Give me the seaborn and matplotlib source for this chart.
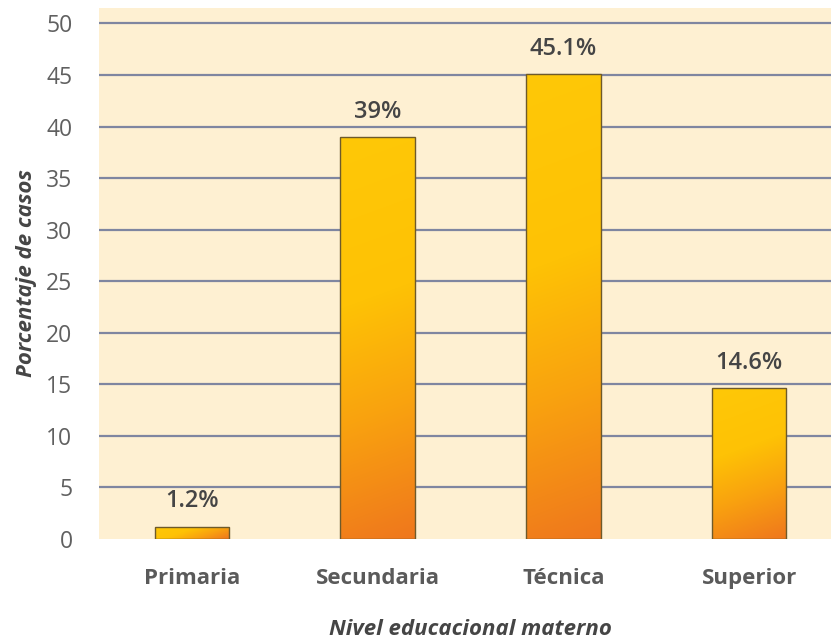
import numpy as np
import matplotlib
matplotlib.use("Agg")
import matplotlib.pyplot as plt
from matplotlib.colors import LinearSegmentedColormap
import seaborn as sns
import pandas as pd

# Data
categories = ["Primaria", "Secundaria", "Técnica", "Superior"]
percentages = [1.2, 39.0, 45.1, 14.6]
value_labels = ["1.2%", "39%", "45.1%", "14.6%"]
y_ticks = [0, 5, 10, 15, 20, 25, 30, 35, 40, 45, 50]

sns.set_theme(style="white")
plt.rcParams["font.family"] = ["Open Sans", "DejaVu Sans"]

fig = plt.figure(figsize=(8.31, 6.42), dpi=100)
ax = fig.add_axes([0.119, 0.1604, 0.881, 0.8271])
ax.set_facecolor("#FEF0D2")

df = pd.DataFrame({"nivel": categories, "pct": percentages})
sns.barplot(data=df, x="nivel", y="pct", ax=ax, width=0.40,
            color="#FFC000", edgecolor="#6E5A2A", linewidth=1.0, zorder=3)

ax.set_xlim(-0.5, 3.44)
ax.set_ylim(0, 51.5)
ax.set_yticks(y_ticks)
ax.set_yticklabels([str(t) for t in y_ticks])

# horizontal gridlines
for t in y_ticks[1:]:
    ax.axhline(t, color="#7F86A0", linewidth=1.6, zorder=1)

# gradient fill: linear gradient at a fixed screen angle (slightly tilted from
# vertical), yellow at the upper-left end, orange at the lower-right end
cmap = LinearSegmentedColormap.from_list(
    "bar_grad",
    [(0.0, "#FFC807"), (0.40, "#FEC205"), (0.68, "#F9A20F"), (1.0, "#EF771D")])
angle = np.deg2rad(20)
dx, dy = np.sin(angle), np.cos(angle)  # screen direction (down-right)
fig.canvas.draw()
for patch in ax.patches:
    x0, y0 = patch.get_x(), patch.get_y()
    w, h = patch.get_width(), patch.get_height()
    if h <= 0:
        continue
    (px0, py0), (px1, py1) = ax.transData.transform([(x0, y0 + h), (x0 + w, y0)])
    pw, ph = abs(px1 - px0), abs(py1 - py0)
    ny, nx = max(int(ph), 4), max(int(pw), 4)
    yy, xx = np.mgrid[0:ph:ny * 1j, 0:pw:nx * 1j]  # yy increases downward
    proj = xx * dx + yy * dy
    frac = (proj - proj.min()) / (proj.max() - proj.min())
    img = ax.imshow(frac, cmap=cmap, vmin=0, vmax=1,
                    extent=[x0, x0 + w, y0, y0 + h], origin="upper",
                    aspect="auto", zorder=3.5, interpolation="bilinear")
    img.set_clip_path(patch)
    patch.set_facecolor("none")
    patch.set_zorder(4)

ax.set_xlim(-0.5, 3.44)
ax.set_ylim(0, 51.5)

# value annotations
for i, (v, lab) in enumerate(zip(percentages, value_labels)):
    ax.text(i, v + 1.3, lab, ha="center", va="bottom", fontsize=17,
            fontweight="semibold", color="#454545", zorder=5)

for s in ax.spines.values():
    s.set_visible(False)

ax.tick_params(axis="y", length=0, pad=19, labelsize=16.5, labelcolor="#606060")
ax.tick_params(axis="x", length=0, pad=21, labelsize=16, labelcolor="#5A5A5A")
for lab in ax.get_xticklabels():
    lab.set_fontweight("bold")

ax.set_xlabel("Nivel educacional materno", fontsize=16, style="italic",
              fontweight="bold", color="#454545")
ax.set_ylabel("Porcentaje de casos", fontsize=16, style="italic",
              fontweight="bold", color="#454545")
ax.xaxis.set_label_coords((470 - 99) / 732, -(619 - 539) / 531)
ax.yaxis.set_label_coords(-(99 - 37) / 732, 0.5)

fig.savefig("out.png", dpi=100, facecolor="white")
